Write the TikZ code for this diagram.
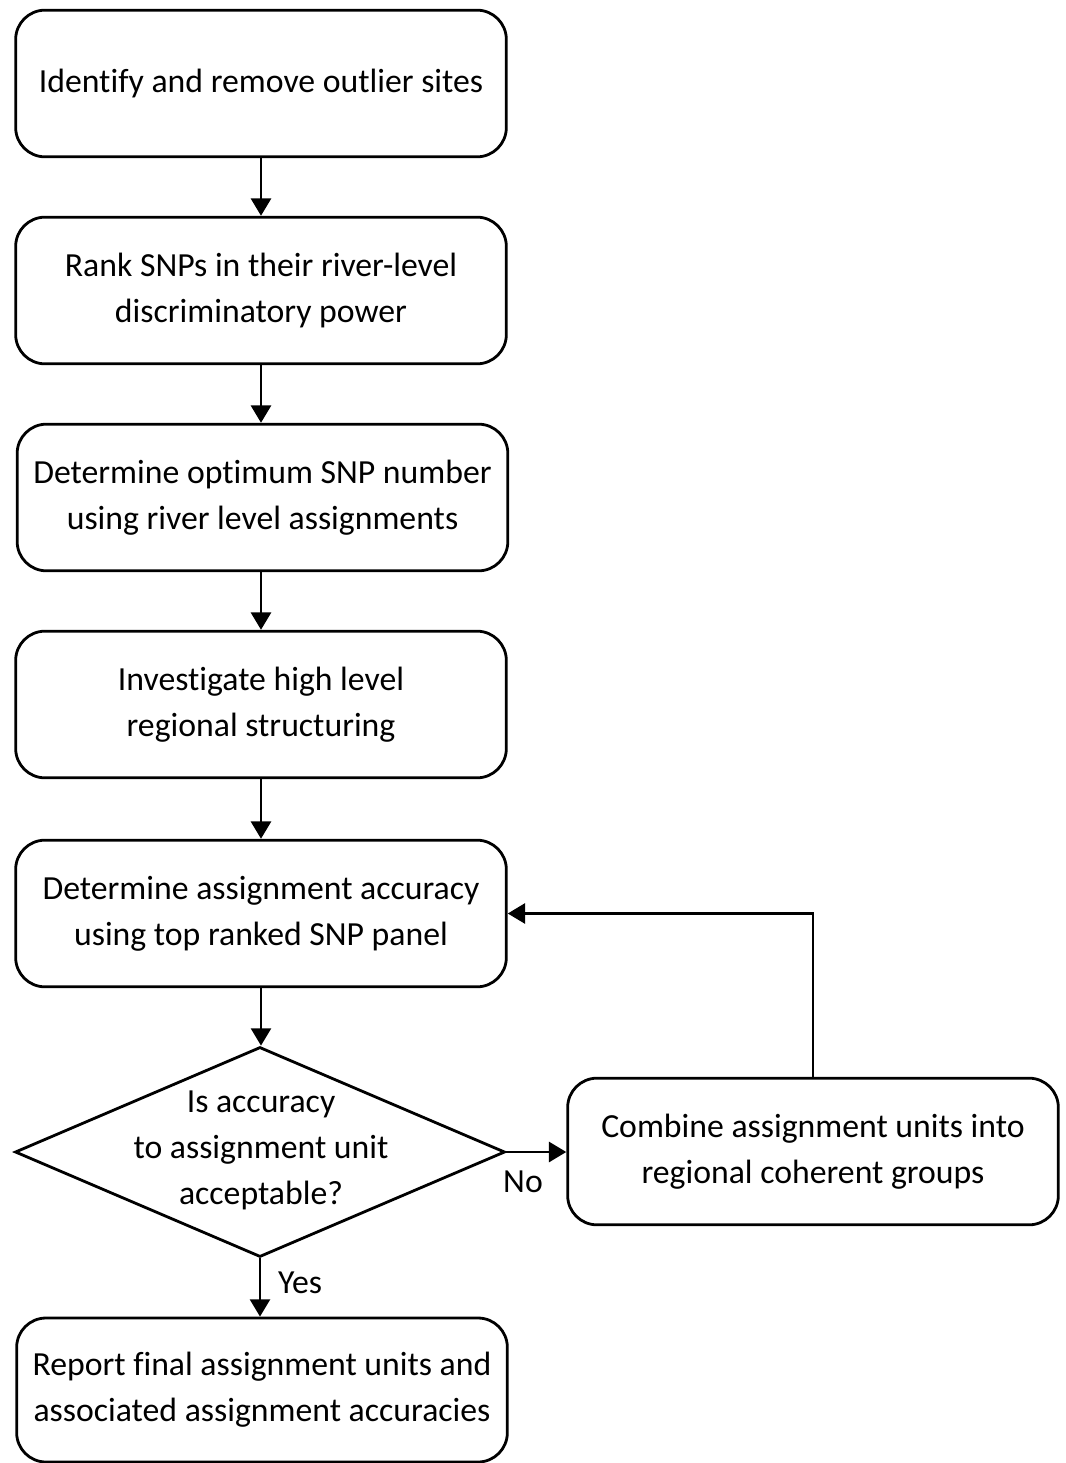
\documentclass[tikz,border=0pt]{standalone}
\usepackage{fontspec}
\setmainfont[Ligatures=NoCommon]{Carlito}
\usetikzlibrary{shapes.geometric,arrows.meta}
\begin{document}
\begin{tikzpicture}[x=0.75pt,y=-0.75pt,
  box/.style={draw, line width=2.1pt, rounded corners=22pt, minimum width=368pt, minimum height=110pt, align=center, font=\fontsize{25.3}{34.5}\selectfont, inner sep=0pt},
  lbl/.style={font=\fontsize{25.3}{34.5}\selectfont, inner sep=0pt},
  arr/.style={line width=2.1pt, -{Triangle[length=13pt,width=15pt]}}]
\useasboundingbox (0,0) rectangle (1066,1463);
\fill[white] (0,0) rectangle (1066,1463);
\node[box] (b1) at (261,83.5) {Identify and remove outlier sites};
\node[box] (b2) at (261,290.5) {Rank SNPs in their river-level\\discriminatory power};
\node[box] (b3) at (262.5,497.5) {Determine optimum SNP number\\using river level assignments};
\node[box] (b4) at (261,704.5) {Investigate high level\\regional structuring};
\node[box] (b5) at (261,913.5) {Determine assignment accuracy\\using top ranked SNP panel};
\node[draw, diamond, line width=2.1pt, minimum width=367.5pt, minimum height=157.5pt, inner sep=0pt] (d) at (260,1152) {};
\node[lbl, align=center] (dt) at (261,1150) {Is accuracy\\to assignment unit\\acceptable?};
\node[box] (c) at (813,1151.5) {Combine assignment units into\\regional coherent groups};
\node[box, minimum height=108pt] (r) at (262,1390) {Report final assignment units and\\associated assignment accuracies};
\draw[arr] (b1.south) -- (b2.north);
\draw[arr] (b2.south) -- (b3.north -| b2.south);
\draw[arr] (b3.south -| b2.south) -- (b4.north);
\draw[arr] (b4.south) -- (b5.north);
\draw[arr] (b5.south) -- (d.north -| b5.south);
\draw[arr] (d.south) -- (r.north -| d.south);
\draw[arr] (d.east) -- (c.west |- d.east);
\draw[arr] (c.north) |- (b5.east);
\node[lbl] (no) at (523,1182) {No};
\node[lbl] (yes) at (300,1283) {Yes};
\end{tikzpicture}
\end{document}
